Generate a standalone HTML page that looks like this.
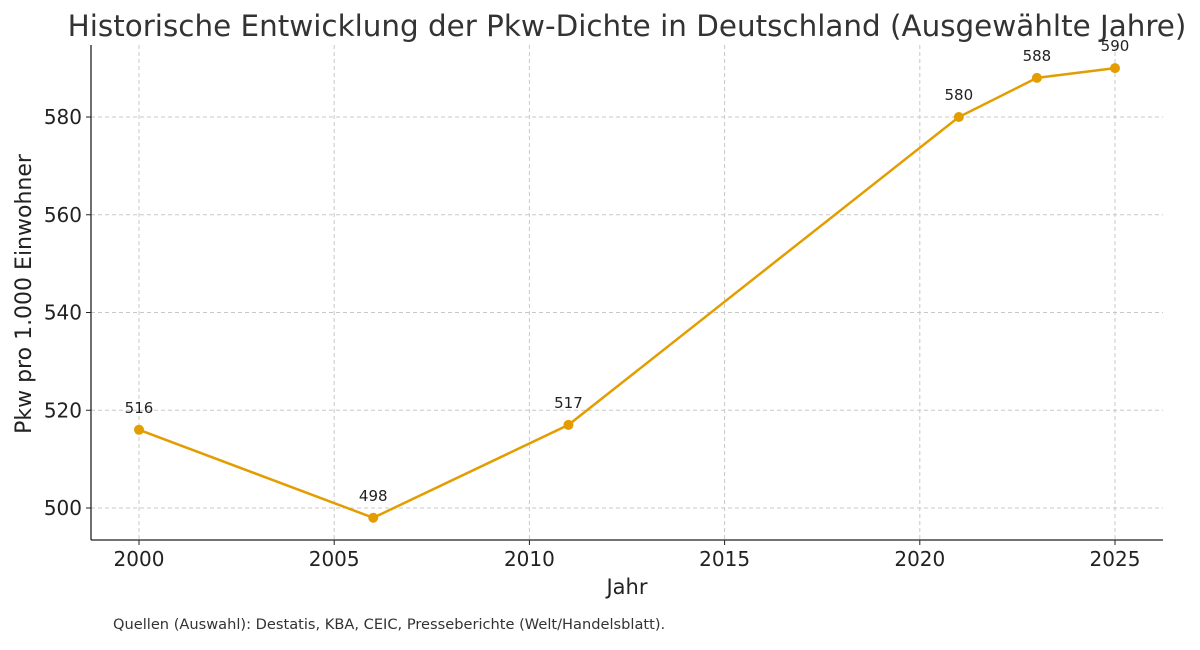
<!DOCTYPE html>
<html><head><meta charset="utf-8"><style>
body{margin:0;background:#fff;}
svg text{font-family:"DejaVu Sans","Liberation Sans",sans-serif;}
</style></head><body>
<svg id="chart" width="1200" height="645" xmlns="http://www.w3.org/2000/svg">
<text x="627" y="36" text-anchor="middle" font-size="29.4" fill="#333">Historische Entwicklung der Pkw-Dichte in Deutschland (Ausgewählte Jahre)</text>
<g id="grid"></g>
<g id="axes"></g>
<g id="series"></g>
<text x="627" y="594" text-anchor="middle" font-size="21" fill="#222">Jahr</text>
<text transform="translate(31,294) rotate(-90)" text-anchor="middle" font-size="22" fill="#222">Pkw pro 1.000 Einwohner</text>
<text x="113" y="629" font-size="14.6" fill="#333">Quellen (Auswahl): Destatis, KBA, CEIC, Presseberichte (Welt/Handelsblatt).</text>
</svg>
<script>
const years=[2000,2006,2011,2021,2023,2025];
const values=[516,498,517,580,588,590];
const xTicks=[2000,2005,2010,2015,2020,2025];
const yTicks=[500,520,540,560,580];
const NS="http://www.w3.org/2000/svg";
const L=91,R=1163,T=45,B=540;
const x=v=>139+(v-2000)*(1115-139)/25;
const y=v=>508-(v-500)*(508-117)/80;
function mk(tag,a,p){const e=document.createElementNS(NS,tag);for(const k in a)e.setAttribute(k,a[k]);p.appendChild(e);return e;}
const g=document.getElementById('grid'),ax=document.getElementById('axes'),s=document.getElementById('series');
xTicks.forEach(t=>{
 const l=mk('line',{x1:x(t),x2:x(t),y1:T,y2:B,stroke:'#c8c8c8','stroke-dasharray':'4,3','stroke-width':1},g);
 
 
 const tk=mk('line',{x1:x(t),x2:x(t),y1:B,y2:B+5,stroke:'#222'},ax);
 
 
 const tx=mk('text',{x:x(t),y:B+26,'text-anchor':'middle','font-size':20,fill:'#222'},ax);
 tx.textContent=t;
 
 
});
yTicks.forEach(t=>{
 const l=mk('line',{x1:L,x2:R,y1:y(t),y2:y(t),stroke:'#c8c8c8','stroke-dasharray':'4,3','stroke-width':1},g);
 
 
 const tk=mk('line',{x1:L-5,x2:L,y1:y(t),y2:y(t),stroke:'#222'},ax);
 
 
 const tx=mk('text',{x:L-9,y:y(t)+7,'text-anchor':'end','font-size':20,fill:'#222'},ax);
 tx.textContent=t;
 
 
});
const sp1=mk('line',{x1:L,x2:L,y1:T,y2:B,stroke:'#222','stroke-width':1.3},ax);


const sp2=mk('line',{x1:L,x2:R,y1:B,y2:B,stroke:'#222','stroke-width':1.3},ax);


const pl=mk('polyline',{points:years.map((v,i)=>x(v)+','+y(values[i])).join(' '),fill:'none',stroke:'#e39d00','stroke-width':2.5},s);


years.forEach((v,i)=>{
 const c=mk('circle',{cx:x(v),cy:y(values[i]),r:5,fill:'#e39d00'},s);
 
 
 const t=mk('text',{x:x(v),y:y(values[i])-17,'text-anchor':'middle','font-size':15,fill:'#222'},s);
 t.textContent=values[i];
 
 
});
</script>
</body></html>
